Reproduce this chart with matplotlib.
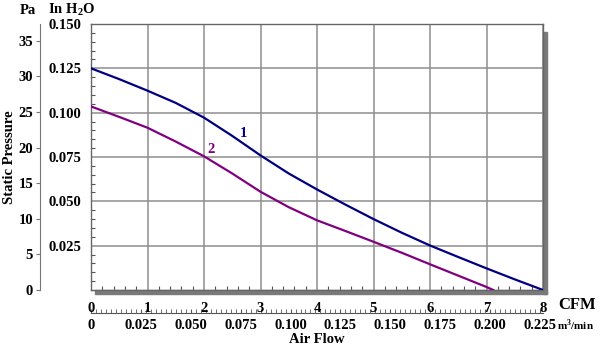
import numpy as np
import matplotlib
matplotlib.use("Agg")
import matplotlib.pyplot as plt
from matplotlib.patches import Rectangle
from matplotlib.ticker import MultipleLocator, FixedLocator

plt.rcParams['font.family'] = ['Liberation Serif', 'DejaVu Serif']
plt.rcParams['font.weight'] = 'bold'
plt.rcParams['mathtext.fontset'] = 'custom'
plt.rcParams['mathtext.rm'] = 'Liberation Serif:bold'
plt.rcParams['mathtext.bf'] = 'Liberation Serif:bold'

# fan curves (CFM vs in H2O)
curve1_cfm = [0, 0.5, 1, 1.5, 2, 2.5, 3, 3.5, 4, 4.5, 5, 5.5, 6, 6.5, 7, 7.5, 8]
curve1_inh2o = [0.125, 0.1189, 0.1124, 0.1055, 0.0972, 0.0869, 0.0759, 0.0657, 0.0567,
                0.0482, 0.0400, 0.0323, 0.0251, 0.0186, 0.0122, 0.006, 0.0]
curve2_cfm = [0, 0.5, 1, 1.5, 2, 2.5, 3, 3.5, 4, 4.5, 5, 5.5, 6, 6.5, 7, 7.12]
curve2_inh2o = [0.1035, 0.0976, 0.0915, 0.0837, 0.0754, 0.0657, 0.0554, 0.0467, 0.0393,
                0.0333, 0.0272, 0.0210, 0.0145, 0.0081, 0.0017, 0.0]

cfm_ticks = [0, 1, 2, 3, 4, 5, 6, 7, 8]
inh2o_ticks = [0.025, 0.050, 0.075, 0.100, 0.125, 0.150]
pa_ticks = [0, 5, 10, 15, 20, 25, 30, 35]
m3_ticks = [0, 0.025, 0.050, 0.075, 0.100, 0.125, 0.150, 0.175, 0.200, 0.225]

PA_PER_INH2O = 249.089
M3MIN_PER_CFM = 0.0283168

navy = '#000080'
purple = '#800080'
grid_col = '#8e8e8e'
W, H = 600, 352
FS = 10.5

fig = plt.figure(figsize=(6, 3.52), dpi=100)
ax = fig.add_axes([91 / W, 62 / H, 452 / W, 266 / H])

ax.plot(curve1_cfm, curve1_inh2o, color=navy, lw=1.6, zorder=3)
ax.plot(curve2_cfm, curve2_inh2o, color=purple, lw=1.6, zorder=3)
ax.text(2.7, 0.0885, '1', color=navy, fontsize=10.5, fontweight='bold', ha='center', va='center')
ax.text(2.13, 0.0795, '2', color=purple, fontsize=10.5, fontweight='bold', ha='center', va='center')

ax.set_xlim(0, 8)
ax.set_ylim(0, 0.150)
ax.xaxis.set_major_locator(FixedLocator(cfm_ticks))
ax.yaxis.set_major_locator(FixedLocator(inh2o_ticks))
ax.set_xticklabels([str(t) for t in cfm_ticks], fontweight='bold', fontsize=FS)
ax.set_yticklabels(['%.3f' % t for t in inh2o_ticks], fontweight='bold', fontsize=FS)
ax.xaxis.set_minor_locator(MultipleLocator(0.2))
ax.yaxis.set_minor_locator(MultipleLocator(0.005))
ax.tick_params(which='major', length=0)
ax.tick_params(axis='x', which='major', pad=9)
ax.tick_params(axis='y', which='major', pad=7)
ax.tick_params(which='minor', direction='in', length=3, width=0.8, color='#555555')
ax.grid(True, which='major', color=grid_col, lw=1.1)
ax.set_axisbelow(True)
for s in ax.spines.values():
    s.set_color('#666666')
    s.set_linewidth(1)

# drop shadow on right and bottom
sx, sy = 4 / 452, 4 / 266
ax.add_patch(Rectangle((1.0, -sy), sx, 1 - sy, transform=ax.transAxes,
                       color='#7a7a7a', clip_on=False, zorder=1))
ax.add_patch(Rectangle((sx, -sy), 1.0, sy, transform=ax.transAxes,
                       color='#7a7a7a', clip_on=False, zorder=1))

# Pa axis on the far left
ax_pa = fig.add_axes([40 / W, 62 / H, 0.0001, 266 / H])
ax_pa.set_ylim(0, 0.150 * PA_PER_INH2O)
ax_pa.set_yticks(pa_ticks)
ax_pa.set_yticklabels([str(t) for t in pa_ticks], fontweight='bold', fontsize=FS)
ax_pa.set_xticks([])
for name in ['top', 'right', 'bottom']:
    ax_pa.spines[name].set_visible(False)
ax_pa.spines['left'].set_color('#777777')
ax_pa.tick_params(axis='y', length=3, color='#777777', pad=2)
ax_pa.patch.set_visible(False)

# m3/min axis below
sec = ax.secondary_xaxis(-23 / 266, functions=(lambda x: x * M3MIN_PER_CFM,
                                                lambda x: x / M3MIN_PER_CFM))
sec.set_xticks(m3_ticks)
sec.set_xticklabels(['0' if t == 0 else '%.3f' % t for t in m3_ticks],
                    fontweight='bold', fontsize=FS)
sec.xaxis.set_minor_locator(MultipleLocator(0.0025))
sec.tick_params(which='both', direction='in', length=3, color='#555555', pad=4)
sec.spines['bottom'].set_color('#555555')
sec.set_xlabel('Air Flow', fontsize=FS, fontweight='bold', labelpad=1)

fig.text(10 / W, 1 - 157 / H, 'Static Pressure', fontsize=FS, fontweight='bold',
         rotation=90, ha='center', va='center')
fig.text(28 / W, 1 - 10 / H, 'Pa', fontsize=FS, fontweight='bold', ha='center', va='center')
fig.text(72 / W, 1 - 10 / H, 'In H$_2$O', fontsize=FS, fontweight='bold', ha='center', va='center')
fig.text(577 / W, 1 - 305 / H, 'CFM', fontsize=12, fontweight='bold', ha='center', va='center')
fig.text(575 / W, 1 - 325 / H, 'm$^3$/min', fontsize=8, fontweight='bold', ha='center', va='center')

fig.savefig('out.png', dpi=100)
